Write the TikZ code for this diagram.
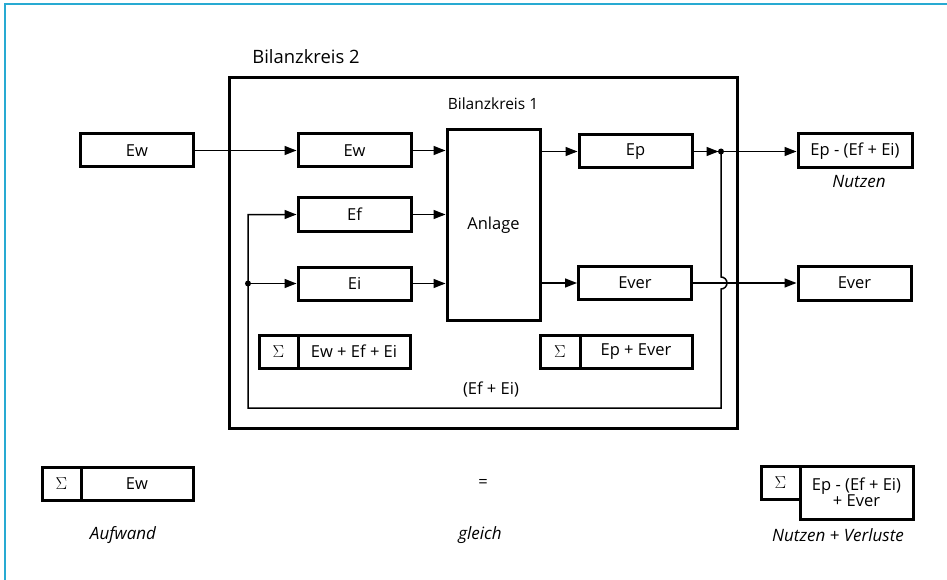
\documentclass[tikz,border=0pt]{standalone}
\usepackage{fontspec}
\setmainfont{Open Sans}
\usetikzlibrary{arrows.meta,calc}
\definecolor{framecyan}{RGB}{40,170,210}
\begin{document}
\begin{tikzpicture}[x=1pt,y=-1pt,
  box/.style={draw,line width=3pt,minimum width=113pt,minimum height=33pt,inner sep=0pt,font=\fontsize{16.5}{18}\selectfont},
  sbox/.style={draw,line width=3pt,minimum width=39pt,minimum height=33pt,inner sep=0pt,font=\fontsize{17}{18}\selectfont},
  conn/.style={line width=1.5pt},
  arr/.style={conn,-{Triangle[length=12pt,width=9pt]}},
  dotn/.style={circle,fill,inner sep=0pt,minimum size=6pt},
  lbl/.style={font=\fontsize{16.5}{18}\selectfont},
  ital/.style={font=\fontsize{17}{18}\selectfont\itshape}]
\useasboundingbox (0,0) rectangle (947,580);
% frame
\draw[framecyan,line width=2pt] (5,580) -- (5,4) -- (947,4);

% outer box
\node[draw,line width=3pt,minimum width=508pt,minimum height=350pt,inner sep=0pt] (bk2) at (483,253) {};
\node[font=\fontsize{18.4}{20}\selectfont] (bk2l) at (306,57) {Bilanzkreis 2};
\node[font=\fontsize{15.5}{18}\selectfont] (bk1l) at (493,104) {Bilanzkreis 1};

% boxes
\node[box] (ewL) at (137,150.5) {Ew};
\node[box] (ewI) at (354.5,150.5) {Ew};
\node[box] (ef) at (354.5,214.5) {Ef};
\node[box] (ei) at (354.5,283.5) {Ei};
\node[draw,line width=3pt,minimum width=93pt,minimum height=190pt,inner sep=0pt,font=\fontsize{16.5}{18}\selectfont] (anl) at (493.5,225) {Anlage};
\node[box] (ep) at (635.5,151.5) {Ep};
\node[box] (ever) at (635,283) {Ever};
\node[box,minimum width=114pt,minimum height=34pt] (nutz) at (855,151) {Ep - (Ef + Ei)};
\node[ital] (nutzl) at (859,182) {Nutzen};
\node[box,minimum height=34pt] (everR) at (854.5,283) {Ever};

% sums inside
\node[sbox] (s1) at (278.5,351.5) {$\Sigma$};
\node[box,minimum width=112pt] (s1t) at (354,351.5) {Ew + Ef + Ei};
\node[sbox,minimum width=40pt] (s2) at (560,351.5) {$\Sigma$};
\node[box,minimum width=112pt] (s2t) at (636,351.5) {Ep + Ever};
\node[lbl] (efei) at (491,389) {(Ef + Ei)};

% bottom
\node[sbox] (s3) at (61.5,483.5) {$\Sigma$};
\node[box,minimum width=112pt] (s3t) at (137,483.5) {Ew};
\node[lbl] (eq) at (483,483) {=};
\node[sbox] (s4) at (780.5,482.5) {$\Sigma$};
\node[box,minimum height=53pt,align=center,font=\fontsize{16.5}{16.5}\selectfont] (s4t) at (856.5,492.5) {Ep - (Ef + Ei)\\+ Ever};
\node[ital] (aufw) at (123,535) {Aufwand};
\node[ital] (gl) at (480,535) {gleich};
\node[ital] (nv) at (838,535) {Nutzen + Verluste};

% connectors
\draw[arr] (ewL.east) -- (ewI.west);
\draw[arr] (ewI.east) -- (ewI.east -| anl.west);
\draw[arr] (ef.east) -- (ef.east -| anl.west);
\draw[arr] (ei.east) -- (ei.east -| anl.west);
\draw[arr] (anl.east |- ep.west) -- (ep.west);
\draw[arr] (anl.east |- ever.west) -- (ever.west);

\node[dotn] (dot) at (721,151.5) {};
\draw[arr,shorten >=2.5pt] (ep.east) -- (dot.center);
\draw[arr] (dot.center) -- (dot.center -| nutz.west);
\draw[arr] (ever.east) -- (everR.west);

\coordinate (jb) at (dot |- ever.east);
\coordinate (rb) at (721,408);
\coordinate (lb) at (248,408);
\node[dotn] (sdot) at (lb |- ei.west) {};
\draw[arr] (dot.center) -- ($(jb)+(0,-6)$) arc[start angle=-90,end angle=90,radius=6] -- (rb) -- (lb) |- (ef.west);
\draw[arr] (sdot.center) -- (ei.west);
\end{tikzpicture}
\end{document}
